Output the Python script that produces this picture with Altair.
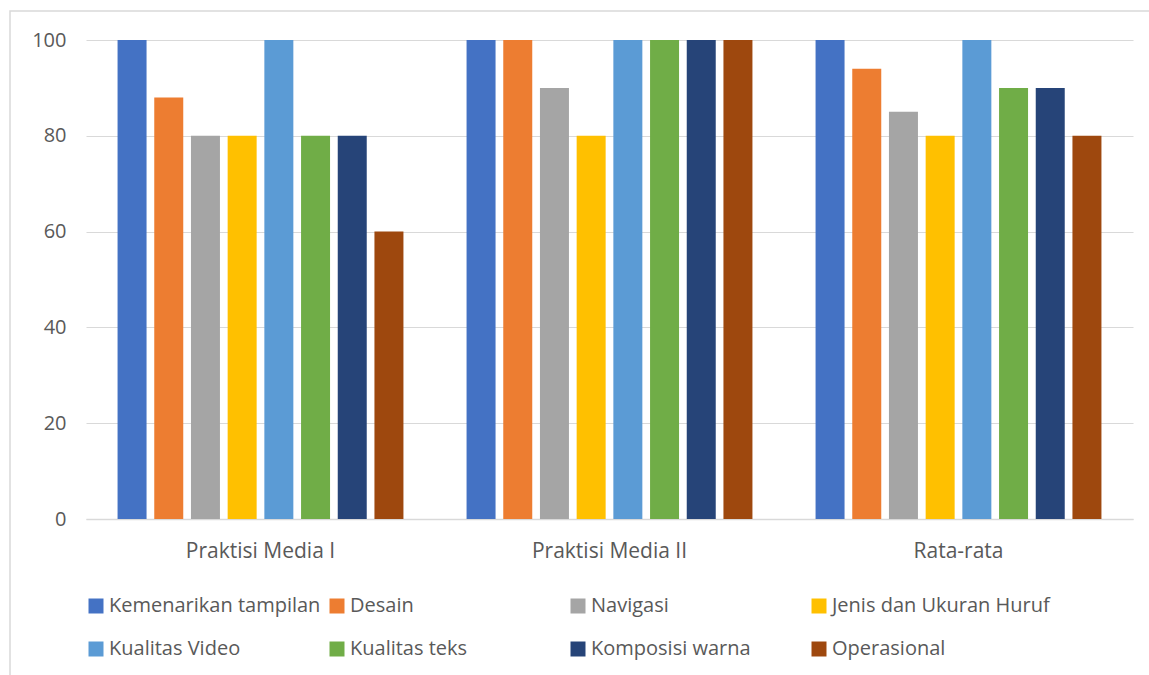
import altair as alt
import pandas as pd

# Kelompok penilaian (sumbu x) dan aspek yang dinilai (seri)
groups = ["Praktisi Media I", "Praktisi Media II", "Rata-rata"]
aspects = [
    "Kemenarikan tampilan", "Desain", "Navigasi", "Jenis dan Ukuran Huruf",
    "Kualitas Video", "Kualitas teks", "Komposisi warna", "Operasional",
]
colors = ["#4472C4", "#ED7D31", "#A5A5A5", "#FFC000",
          "#5B9BD5", "#70AD47", "#264478", "#9E480E"]

praktisi_1 = [100, 88, 80, 80, 100, 80, 80, 60]
praktisi_2 = [100, 100, 90, 80, 100, 100, 100, 100]
rata_rata = [100, 94, 85, 80, 100, 90, 90, 80]

rows = []
for g, vals in zip(groups, [praktisi_1, praktisi_2, rata_rata]):
    for a, v in zip(aspects, vals):
        rows.append({"Kelompok": g, "Aspek": a, "Nilai": v})
df = pd.DataFrame(rows)

FONT = "Open Sans"
TEXT = "#595959"
GRID = "#D9D9D9"
W, H = 1047, 479

bars = alt.Chart(df).mark_bar().encode(
    x=alt.X("Kelompok:N", sort=groups, title=None,
            scale=alt.Scale(paddingInner=0, paddingOuter=0),
            axis=alt.Axis(labelAngle=0, labelFontSize=21, labelColor=TEXT,
                          labelFont=FONT, labelPadding=21, ticks=False,
                          domainColor=GRID, domainWidth=1.5, grid=False)),
    xOffset=alt.XOffset("Aspek:N", sort=aspects,
                        scale=alt.Scale(paddingInner=0.21, paddingOuter=0.86)),
    y=alt.Y("Nilai:Q", title=None,
            scale=alt.Scale(domain=[0, 100], nice=False),
            axis=alt.Axis(values=[0, 20, 40, 60, 80, 100], labelFontSize=20,
                          labelColor=TEXT, labelFont=FONT, labelPadding=20,
                          ticks=False, domain=False, gridColor=GRID,
                          gridWidth=1)),
    color=alt.Color("Aspek:N", sort=aspects,
                    scale=alt.Scale(domain=aspects, range=colors),
                    legend=alt.Legend(
                        title=None, orient="none", legendX=0, legendY=556,
                        direction="horizontal", columns=4, gridAlign="all",
                        columnPadding=0, rowPadding=23, symbolType="square",
                        symbolSize=225, symbolStrokeWidth=0,
                        labelFontSize=20, labelFont=FONT, labelColor=TEXT,
                        labelOffset=3, labelLimit=400)),
)

# Bingkai tipis di sekeliling area grafik
frame = alt.Chart(pd.DataFrame({"k": [0]})).mark_rect(
    fill=None, stroke=GRID, strokeWidth=1.5
).encode(
    x=alt.value(-76), x2=alt.value(W + 40),
    y=alt.value(-29), y2=alt.value(H + 200),
)

chart = alt.layer(frame, bars).properties(
    width=W, height=H,
    autosize=alt.AutoSizeParams(type="none"),
    padding={"left": 86, "top": 40, "right": 1149 - 86 - W, "bottom": 675 - 40 - H},
    background="white",
).configure_view(stroke=None)

chart.save("out.html", embed_options={"renderer": "svg", "actions": False})
